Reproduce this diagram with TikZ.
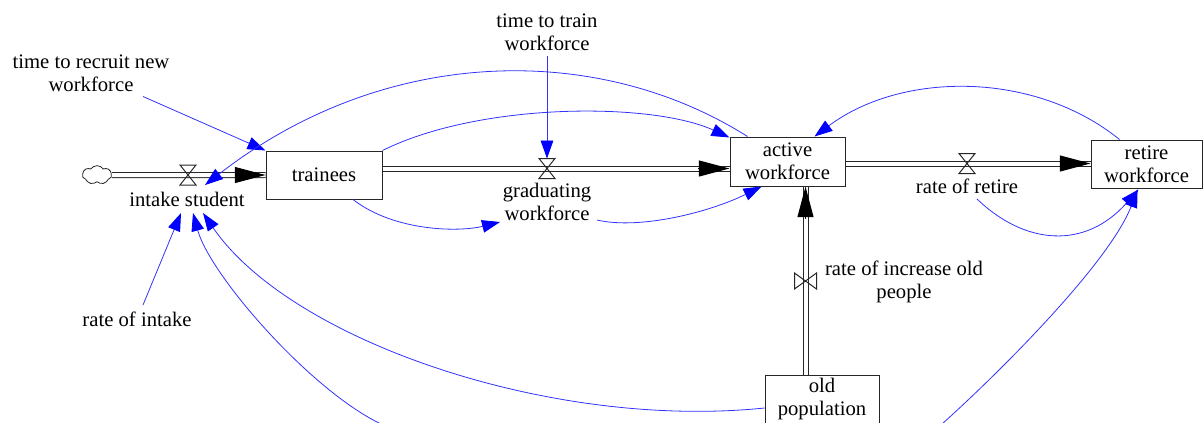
\documentclass[tikz,border=0pt]{standalone}
\usepackage{fontspec}
\setmainfont{Liberation Serif}
\usetikzlibrary{arrows.meta,shapes.symbols,calc}
\definecolor{linkblue}{RGB}{50,50,255}
\definecolor{headblue}{RGB}{0,0,255}
\begin{document}
\begin{tikzpicture}[x=0.75pt,y=-0.75pt,
 every node/.style={font=\fontsize{15.5}{17.25}\selectfont, inner sep=0pt},
 lab/.style={align=center, text=black},
 stock/.style={draw=black!85, line width=0.75pt, align=center, inner sep=0pt},
 pipe/.style={draw=black!85, double=white, double distance=3pt, line width=0.75pt},
 flowtip/.style={-{Triangle[length=23pt,width=12pt]}, draw=black, line width=0.75pt},
 link/.style={draw=linkblue, line width=0.6pt, -{Triangle[length=13.5pt,width=9.5pt,color=headblue]}},
 valve/.style={draw=black!85, line width=0.75pt}
]
\useasboundingbox (0,0) rectangle (1204,422);
\clip (0,0) rectangle (1204,422);

% stocks
\node[stock, minimum width=87pt, minimum height=36pt] (trainees) at (324,175) {trainees};
\node[stock, minimum width=86.25pt, minimum height=36.75pt] (active) at (787.5,161.5) {active\\workforce};
\node[stock, minimum width=83.25pt, minimum height=36pt] (retire) at (1146.5,164) {retire\\workforce};
\node[stock, minimum width=85.5pt, minimum height=36pt] (old) at (822,399) {old\\population};

% source cloud
\node[cloud, cloud puffs=7, cloud puff arc=110, aspect=1.6, draw=black!85, line width=0.6pt,
      minimum width=22pt, minimum height=14pt, inner sep=0pt] (src) at (97,175) {};

% valve positions
\coordinate (iv) at (188,175);
\coordinate (gv) at (547,168.5);
\coordinate (rv) at (967,163.5);
\coordinate (ov) at (805.5,281);

% pipes
\draw[pipe] (src.east) -- (trainees.west);
\draw[flowtip] ($(trainees.west)+(-30,0)$) -- (trainees.west);
\draw[pipe] (trainees.east |- gv) -- (active.west |- gv);
\draw[flowtip] ($(active.west |- gv)+(-32,0)$) -- (active.west |- gv);
\draw[pipe] (active.east |- rv) -- (retire.west |- rv);
\draw[flowtip] ($(retire.west |- rv)+(-29,0)$) -- (retire.west |- rv);
\draw[pipe] (old.north -| ov) -- (active.south -| ov);
\draw[flowtip] ($(active.south -| ov)+(0,32)$) -- (active.south -| ov);

% valves
\draw[valve] ($(iv)+(-8,-10)$) -- ++(16,0) -- ++(-16,20) -- ++(16,0) -- cycle;
\draw[valve] ($(gv)+(-8,-10)$) -- ++(16,0) -- ++(-16,20) -- ++(16,0) -- cycle;
\draw[valve] ($(rv)+(-8,-10)$) -- ++(16,0) -- ++(-16,20) -- ++(16,0) -- cycle;
\draw[valve] ($(ov)+(-11,-8)$) -- ++(0,16) -- ++(22,-16) -- ++(0,16) -- cycle;

% labels
\node[lab] (is) at (187,199) {intake student};
\node[lab] (gw) at (547,201.5) {graduating\\workforce};
\node[lab] (rr) at (967,186) {rate of retire};
\node[lab] (ri) at (904,281.5) {rate of increase old\\people};
\node[lab] (tr) at (91,73.5) {time to recruit new\\workforce};
\node[lab] (tt) at (547,32) {time to train\\workforce};
\node[lab] (rin) at (137,319) {rate of intake};

% off-picture ends
\coordinate (b1) at (381,424);
\coordinate (b2) at (942,424);

% links
\draw[link] ($(tr.center)+(52,23)$) -- (trainees.north west);
\draw[link] ($(active.north west)+(18,0)$) .. controls (598,42) and (385,45) .. ($(is.center)+(18,-14)$);
\draw[link] (trainees.north east) .. controls (480,102) and (652,102) .. ($(active.north west)+(0,1)$);
\draw[link] ($(tt.center)+(0,24)$) -- ($(gv)+(0,-10)$);
\draw[link] ($(trainees.south)+(29,0)$) .. controls (395,232) and (460,232) .. ($(gw.center)+(-47,20.5)$);
\draw[link] ($(gw.center)+(50,18.5)$) .. controls (640,230) and (710,212) .. ($(active.south west)+(32,0)$);
\draw[link] ($(retire.north west)+(29,0)$) .. controls (1035,71) and (902,71) .. ($(active.north west)+(85,0)$);
\draw[link] ($(rr.center)+(10,13)$) .. controls (1025,245) and (1085,250) .. ($(retire.south west)+(48,1)$);
\draw[link] (b2) .. controls (1000,372) and (1110,262) .. ($(retire.south west)+(47,1)$);
\draw[link] (b1) .. controls (310,390) and (210,275) .. ($(is.center)+(6,14)$);
\draw[link] ($(old.west)+(0,9)$) .. controls (550,430) and (290,340) .. ($(is.center)+(16,14)$);
\draw[link] ($(rin.center)+(6,-14)$) -- ($(is.center)+(-6,14)$);
\end{tikzpicture}
\end{document}
